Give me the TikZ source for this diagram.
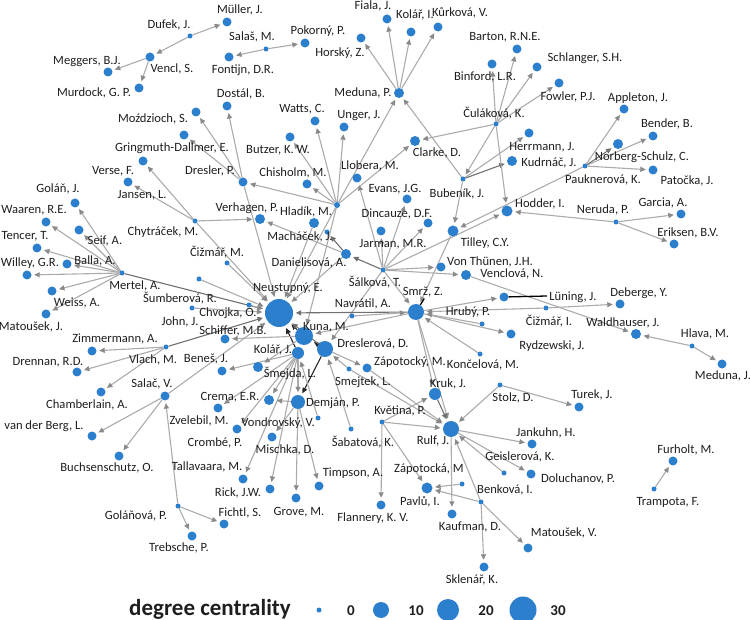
\documentclass[tikz,border=0pt]{standalone}
\usepackage{fontspec}
\setmainfont{Carlito}
\usetikzlibrary{arrows.meta}
\definecolor{nodeblue}{HTML}{2B7FCC}
\definecolor{edgegray}{HTML}{ABABAB}
\definecolor{edgedark}{HTML}{707070}
\definecolor{tipgray}{HTML}{8A8A8A}
\definecolor{txt}{HTML}{1E1E1E}
\pgfdeclarelayer{bg}
\pgfsetlayers{bg,main}
\newcommand\mynd[7]{\node[vx,minimum size=#4pt] (#1) at (#2,#3) {};\node[lbl] (#1l) at (#6,#7) {#5};}
\newcommand\myed[2]{\draw[eg] (#1) -- (#2);}
\newcommand\myedd[2]{\draw[eg,draw=edgedark,-{Triangle[length=5.5pt,width=5pt,color=edgedark]}] (#1) -- (#2);}
\newcommand\myedb[2]{\draw[eg,draw=black!85,-{Triangle[length=5.5pt,width=5pt,color=black!85]}] (#1) -- (#2);}
\begin{document}
\begin{tikzpicture}[x=1pt,y=-1pt,
  vx/.style={circle,fill=nodeblue,inner sep=0pt,draw=none},
  lbl/.style={font=\fontsize{12.6}{12.6}\selectfont,text=txt,inner sep=0pt},
  eg/.style={draw=edgegray,line width=1.1pt,-{Triangle[length=5.5pt,width=5pt,color=tipgray]},shorten >=2.5pt},
  lead/.style={draw=black,line width=1.3pt},
  legtxt/.style={font=\bfseries\fontsize{15}{15}\selectfont,text=txt,inner sep=0pt}]
\useasboundingbox (0,0) rectangle (750,620);
% top left
\mynd{mul}{227}{22}{9}{Müller, J.}{240}{10}
\mynd{duf}{190}{36}{5}{Dufek, J.}{169}{25}
\mynd{ven}{150}{57}{9}{Vencl, S.}{172}{69}
\mynd{meg}{108}{72}{9}{Meggers, B.J.}{87}{62}
\mynd{mur}{139}{88}{9}{Murdock, G. P.}{94}{93}
\mynd{sal}{266}{49}{5}{Salaš, M.}{252}{37}
\mynd{pok}{305}{43}{9}{Pokorný, P.}{318}{31}
\mynd{fon}{229}{57}{9}{Fontijn, D.R.}{243}{70}
\mynd{dos}{227}{106}{9}{Dostál, B.}{241}{94}
\mynd{moz}{196}{112}{9}{Moździoch, S.}{153}{119}
\mynd{gri}{184}{135}{9}{Gringmuth-Dallmer, E.}{172}{148}
\mynd{vrs}{143}{161}{9}{Verse, F.}{113}{171}
\mynd{jan}{128}{182}{9}{Jansen, L.}{142}{195}
\mynd{gol}{75}{203}{9}{Goláň, J.}{58}{189}
\mynd{dre}{243}{182}{9}{Dresler, P.}{210}{171}
% top middle
\mynd{fia}{387}{19}{9}{Fiala, J.}{373}{6}
\mynd{kli}{411}{32}{9}{Kolář, I.}{415}{15}
\mynd{kur}{438}{27}{9}{Kůrková, V.}{460}{13}
\mynd{hor}{361}{38}{9}{Horský, Z.}{340}{53}
\mynd{mep}{399}{93}{10}{Meduna, P.}{363}{93}
\mynd{wat}{315}{121}{9}{Watts, C.}{302}{109}
\mynd{ung}{344}{127}{9}{Unger, J.}{359}{116}
\mynd{but}{290}{137}{9}{Butzer, K. W.}{278}{150}
\mynd{cla}{415}{141}{10}{Clarke, D.}{437}{153}
\mynd{chi}{307}{184}{9}{Chisholm, M.}{293}{173}
\mynd{llo}{357}{178}{9}{Llobera, M.}{370}{166}
\mynd{eva}{407}{199}{9}{Evans, J.G.}{395}{189}
\mynd{bub}{463}{179}{5}{Bubeník, J.}{457}{194}
% top right
\mynd{bar}{517}{49}{9}{Barton, R.N.E.}{505}{37}
\mynd{bin}{492}{64}{9}{Binford, L.R.}{485}{77}
\mynd{cul}{496}{124}{5}{Čuláková, K.}{494}{113}
\mynd{sch}{537}{67}{9}{Schlanger, S.H.}{585}{58}
\mynd{fow}{559}{83}{9}{Fowler, P.J.}{568}{97}
\mynd{app}{624}{109}{9}{Appleton, J.}{638}{98}
\mynd{ben}{653}{136}{9}{Bender, B.}{667}{124}
\mynd{nor}{618}{144}{10}{Norberg-Schulz, C.}{642}{157}
\mynd{her}{529}{133}{9}{Herrmann, J.}{542}{147}
\mynd{kud}{512}{161}{10}{Kudrnáč, J.}{549}{163}
\mynd{pau}{585}{166}{5}{Pauknerová, K.}{603}{180}
\mynd{pat}{653}{170}{9}{Patočka, J.}{687}{181}
% middle right
\mynd{hod}{507}{211}{11}{Hodder, I.}{540}{204}
\mynd{til}{453}{231}{11}{Tilley, C.Y.}{485}{243}
\mynd{ner}{616}{222}{5}{Neruda, P.}{603}{210}
\mynd{gar}{681}{214}{9}{Garcia, A.}{663}{203}
\mynd{eri}{674}{244}{9}{Eriksen, B.V.}{688}{233}
\mynd{vth}{441}{267}{9}{Von Thünen, J.H.}{490}{262}
\mynd{vcl}{466}{275}{10}{Venclová, N.}{512}{274}
\mynd{lun}{504}{297}{9}{Lüning, J.}{573}{297}
\mynd{deb}{620}{304}{9}{Deberge, Y.}{639}{293}
\mynd{cii}{546}{308}{5}{Čižmář, I.}{549}{321}
\mynd{wal}{636}{334}{10}{Waldhauser, J.}{623}{323}
\mynd{hla}{692}{346}{5}{Hlava, M.}{705}{334}
\mynd{mej}{722}{364}{9}{Meduna, J.}{723}{376}
\mynd{ryd}{511}{334}{9}{Rydzewski, J.}{552}{346}
\mynd{hru}{482}{324}{5}{Hrubý, P.}{468}{312}
\mynd{kon}{480}{354}{5}{Končelová, M.}{483}{365}
\mynd{sto}{500}{385}{5}{Stolz, D.}{513}{398}
\mynd{tur}{579}{407}{9}{Turek, J.}{592}{395}
% center
\mynd{hld}{314}{223}{10}{Hladík, M.}{306}{212}
\mynd{ver}{260}{219}{10}{Verhagen, P.}{247}{208}
\node[vx,minimum size=6pt] (hub) at (337,205) {};
\mynd{mac}{327}{232}{5}{Macháček, J.}{300}{237}
\mynd{dan}{346}{254}{10}{Danielisová, A.}{309}{263}
\mynd{din}{428}{223}{9}{Dincauze, D.F.}{397}{214}
\mynd{jar}{381}{231}{9}{Jarman, M.R.}{393}{244}
\mynd{sak}{383}{270}{5}{Šálková, T.}{375}{282}
\mynd{smr}{416}{312}{16}{Smrž, Z.}{423}{292}
\mynd{nav}{352}{316}{5}{Navrátil, A.}{363}{304}
\mynd{neu}{279}{313}{28}{Neustupný, E.}{288}{288}
\mynd{kun}{304}{336}{18}{Kuna, M.}{326}{327}
\mynd{drs}{325}{349}{16}{Dreslerová, D.}{373}{344}
\mynd{kol}{298}{353}{12}{Kolář, J.}{273}{350}
\mynd{smj}{258}{367}{10}{Šmejda, L.}{290}{373}
\mynd{zpy}{367}{368}{9}{Zápotocký, M.}{410}{362}
\mynd{smt}{349}{369}{5}{Smejtek, L.}{363}{382}
\mynd{dem}{298}{402}{14}{Demján, P.}{333}{403}
\mynd{cre}{269}{400}{10}{Crema, E.R.}{230}{397}
\mynd{zve}{218}{408}{9}{Zvelebil, M.}{199}{421}
\mynd{cro}{237}{429}{9}{Crombé, P.}{215}{443}
\mynd{von}{318}{418}{5}{Vondrovský, V.}{278}{423}
\mynd{mis}{272}{437}{9}{Mischka, D.}{285}{450}
\mynd{tal}{243}{479}{9}{Tallavaara, M.}{207}{467}
\mynd{ric}{270}{489}{9}{Rick, J.W.}{238}{493}
\mynd{gro}{296}{498}{9}{Grove, M.}{299}{512}
\mynd{tim}{319}{486}{9}{Timpson, A.}{353}{473}
\mynd{sab}{351}{429}{5}{Šabatová, K.}{363}{442}
\mynd{kve}{382}{422}{5}{Květina, P.}{400}{411}
\mynd{fla}{381}{505}{9}{Flannery, K. V.}{373}{518}
\mynd{rul}{451}{429}{16}{Rulf, J.}{433}{441}
\mynd{kru}{435}{394}{12}{Kruk, J.}{448}{384}
\mynd{zpa}{462}{484}{5}{Zápotocká, M}{429}{469}
\mynd{pav}{427}{488}{11}{Pavlů, I.}{420}{502}
\mynd{bnk}{481}{502}{5}{Benková, I.}{505}{490}
\mynd{kau}{452}{514}{9}{Kaufman, D.}{470}{527}
\mynd{skl}{484}{567}{9}{Sklenář, K.}{472}{580}
\mynd{gei}{504}{473}{5}{Geislerová, K.}{520}{457}
\mynd{dol}{531}{474}{9}{Doluchanov, P.}{578}{479}
\mynd{jnk}{532}{444}{9}{Jankuhn, H.}{546}{433}
\mynd{mav}{528}{548}{9}{Matoušek, V.}{564}{533}
\mynd{fur}{673}{461}{9}{Furholt, M.}{686}{450}
\mynd{tra}{654}{489}{5}{Trampota, F.}{668}{502}
% left
\mynd{waa}{46}{222}{9}{Waaren, R.E.}{34}{210}
\mynd{sei}{79}{230}{9}{Seif, A.}{105}{241}
\mynd{ten}{37}{248}{9}{Tencer, T.}{25}{236}
\mynd{bal}{67}{264}{9}{Balla, A.}{95}{261}
\mynd{wil}{27}{275}{9}{Willey, G.R.}{30}{263}
\mynd{wei}{52}{291}{9}{Weiss, A.}{77}{303}
\mynd{maj}{46}{314}{9}{Matoušek, J.}{31}{327}
\mynd{mer}{122}{273}{5}{Mertel, A.}{135}{286}
\mynd{chy}{195}{221}{5}{Chytráček, M.}{163}{232}
\mynd{cim}{227}{263}{5}{Čižmář, M.}{217}{252}
\mynd{sum}{199}{279}{5}{Šumberová, R.}{180}{298}
\mynd{joh}{192}{308}{5}{John, J.}{180}{322}
\mynd{chv}{249}{305}{5}{Chvojka, O.}{228}{313}
\mynd{sci}{225}{339}{9}{Schiffer, M.B.}{233}{331}
\mynd{bne}{222}{371}{9}{Beneš, J.}{206}{359}
\mynd{zim}{92}{351}{9}{Zimmermann, A.}{115}{339}
\mynd{vla}{166}{347}{5}{Vlach, M.}{153}{360}
\mynd{drn}{77}{372}{9}{Drennan, R.D.}{48}{362}
\mynd{slc}{165}{396}{9}{Salač, V.}{152}{384}
\mynd{chb}{101}{392}{9}{Chamberlain, A.}{87}{405}
\mynd{vdb}{92}{436}{9}{van der Berg, L.}{44}{426}
\mynd{buc}{119}{456}{9}{Buchsenschutz, O.}{107}{468}
\mynd{gln}{178}{506}{5}{Goláňová, P.}{136}{516}
\mynd{tre}{192}{536}{9}{Trebsche, P.}{179}{548}
\mynd{fic}{224}{524}{9}{Fichtl, S.}{240}{513}
% leader lines
\coordinate (smrlead) at (424,299);
\coordinate (lunlead) at (547,296);
\draw[lead] (smr) -- (smrlead);
\draw[lead] (lun) -- (lunlead);
% legend
\node[font=\bfseries\fontsize{23}{23}\selectfont,text=txt,inner sep=0pt] (legt) at (210,609) {degree centrality};
\node[vx,minimum size=5pt] (lg0) at (319,610) {};
\node[legtxt] (lg0t) at (351,611) {0};
\node[vx,minimum size=16pt] (lg1) at (381,610) {};
\node[legtxt] (lg1t) at (416,611) {10};
\node[vx,minimum size=22pt] (lg2) at (448,610) {};
\node[legtxt] (lg2t) at (486,611) {20};
\node[vx,minimum size=27pt] (lg3) at (523,610) {};
\node[legtxt] (lg3t) at (558,611) {30};
\begin{pgfonlayer}{bg}
\myed{duf}{mul}\myed{duf}{ven}\myed{ven}{meg}\myed{ven}{mur}
\myed{sal}{pok}\myed{sal}{fon}
\myed{dre}{moz}\myed{dre}{dos}\myed{dre}{gri}\myed{dre}{neu}
\myed{chy}{vrs}\myed{chy}{jan}\myed{chy}{ver}\myed{chy}{neu}
\myed{mep}{fia}\myed{mep}{kli}\myed{mep}{kur}\myed{mep}{hor}
\myed{hub}{wat}\myed{hub}{but}\myed{hub}{ung}\myed{hub}{mep}\myed{hub}{cla}
\myed{hub}{dre}\myed{hub}{neu}\myed{hub}{kun}\myed{hub}{chi}
\myed{bub}{mep}\myed{bub}{til}\myed{bub}{her}\myedd{bub}{kud}\myed{cul}{bub}
\myed{cul}{bar}\myed{cul}{bin}\myed{cul}{sch}\myed{cul}{fow}\myed{cul}{cla}\myed{cul}{hod}
\myed{pau}{app}\myed{pau}{ben}\myed{pau}{pat}\myedd{pau}{nor}\myed{pau}{til}
\myed{ner}{hod}\myed{ner}{gar}\myed{ner}{eri}
\myedd{sak}{dan}\myed{sak}{llo}\myed{sak}{smr}\myed{sak}{drs}\myed{sak}{hod}
\myed{sak}{vth}\myed{sak}{vcl}\myed{sak}{din}\myed{sak}{eva}\myed{sak}{jar}
\myedd{dan}{mac}\myed{dan}{ver}\myed{dan}{neu}\myed{hld}{neu}
\myedd{mer}{neu}\myed{cim}{neu}\myed{sum}{neu}\myed{joh}{neu}\myed{chv}{neu}
\myedd{vla}{neu}\myed{slc}{neu}
\myed{mer}{gol}\myed{mer}{waa}\myed{mer}{ten}\myed{mer}{sei}\myed{mer}{bal}
\myed{mer}{wil}\myed{mer}{wei}\myed{mer}{maj}
\myed{vla}{zim}\myed{vla}{drn}\myed{vla}{chb}
\myed{slc}{vdb}\myed{slc}{buc}\myed{gln}{slc}\myed{gln}{tre}\myed{gln}{fic}
\myedd{smr}{neu}\myed{nav}{smr}\myed{smr}{kru}\myed{smr}{rul}\myed{smr}{lun}
\myed{smr}{ryd}\myed{smr}{kun}
\myed{hru}{smr}\myed{kon}{smr}\myed{cii}{smr}\myed{cii}{deb}\myed{til}{smr}
\myed{vcl}{wal}\myed{hla}{wal}\myed{hla}{mej}
\myed{sto}{tur}\myed{sto}{rul}
\myedb{kun}{neu}\myedb{kol}{neu}\myedb{drs}{kun}\myedb{drs}{dem}\myedd{drs}{neu}
\myed{kun}{sci}\myed{kol}{bne}\myed{kol}{zve}\myed{kol}{cro}\myed{kol}{tal}
\myed{kol}{cre}\myed{kol}{dem}\myed{kol}{ric}\myed{kun}{smj}
\myed{dem}{cre}\myed{dem}{mis}\myed{dem}{gro}\myed{dem}{tim}
\myed{von}{kol}
\myed{drs}{zpy}\myed{smt}{drs}\myed{sab}{drs}
\myed{zpy}{rul}\myed{smt}{rul}\myedd{kru}{rul}\myed{kve}{rul}\myed{kve}{kru}
\myed{kve}{pav}\myed{kve}{fla}
\myed{bnk}{rul}\myed{gei}{rul}\myed{rul}{jnk}\myed{rul}{dol}\myed{rul}{kau}
\myed{bnk}{mav}\myed{bnk}{skl}\myed{bnk}{pav}\myed{zpa}{pav}
\myed{tra}{fur}
\end{pgfonlayer}
\end{tikzpicture}
\end{document}
